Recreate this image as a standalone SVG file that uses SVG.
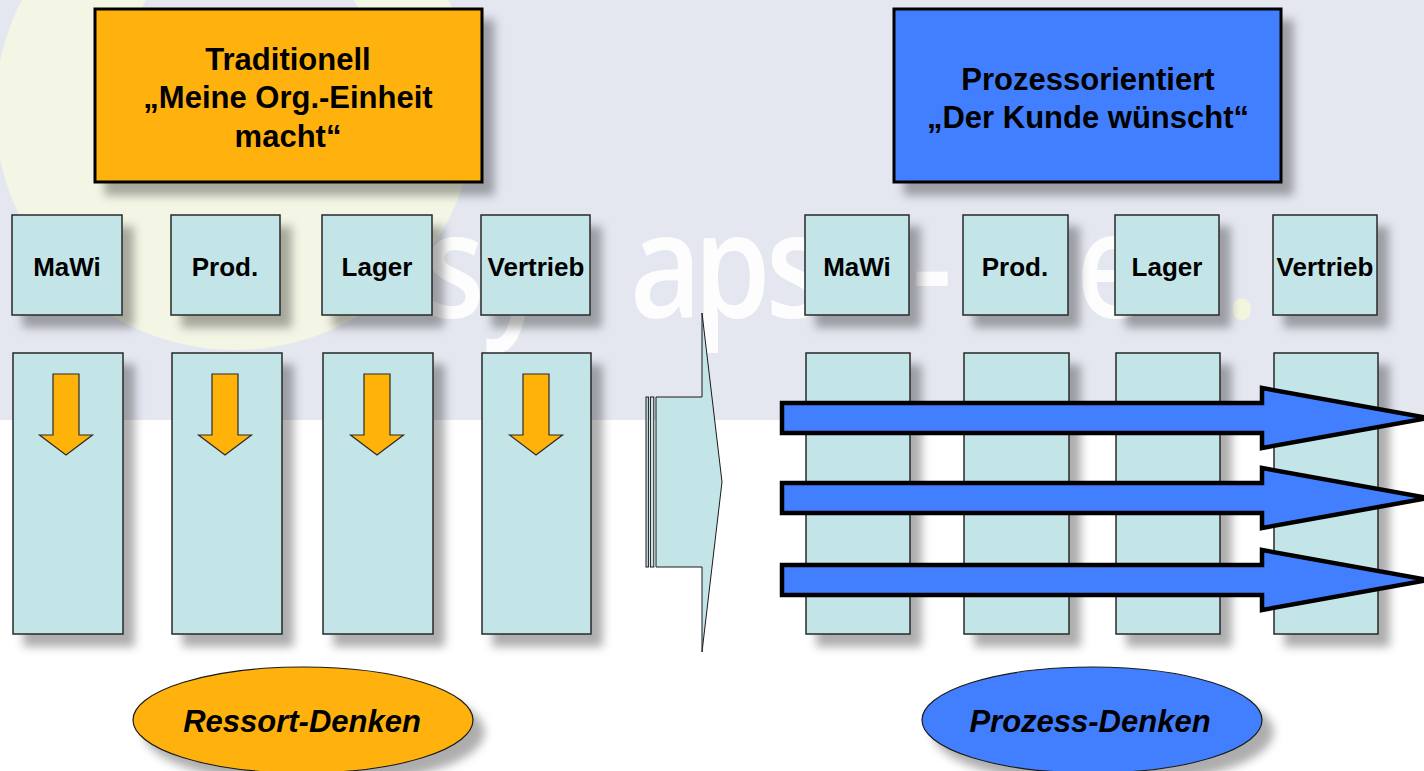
<svg xmlns="http://www.w3.org/2000/svg" xmlns:xlink="http://www.w3.org/1999/xlink" width="1424" height="771" viewBox="0 0 1424 771">
  <style>
    .lbl { font-family: "Liberation Sans", Arial, sans-serif; font-weight: bold; fill: #000; text-anchor: middle; }
    .head { font-size: 31px; }
    .unit { font-size: 26px; }
    .oval { font-size: 31px; font-style: italic; }
    .dept { fill: #c4e5e8; stroke: #2a2a2a; stroke-width: 1.5; }
    .org { fill: #ffb208; }
    .proc { fill: #427fff; }
    .mark { font-family: "Open Sans", sans-serif; font-size: 146px; font-weight: 600; }
  </style>
  <defs>
    <filter id="shadow" x="-20%" y="-20%" width="150%" height="150%">
      <feGaussianBlur in="SourceAlpha" stdDeviation="5"/>
      <feOffset dx="11" dy="12" result="b"/>
      <feFlood flood-color="#000" flood-opacity="0.32"/>
      <feComposite in2="b" operator="in"/>
      <feMerge><feMergeNode/><feMergeNode in="SourceGraphic"/></feMerge>
    </filter>
    <!-- downward block arrow, centred on x = 0 -->
    <path id="down" d="M-13,374 H13 V435 H26.5 L0,455 L-26.5,435 H-13 Z" fill="#ffb208" stroke="#2a2a2a" stroke-width="1.2" stroke-linejoin="miter"/>
    <!-- horizontal process arrow, centred on y = 0 -->
    <path id="flow" d="M782,-15 H1262 V-30 L1428,0 L1262,30 V15 H782 Z" fill="#427fff" stroke="#000" stroke-width="4.5" stroke-linejoin="miter"/>
  </defs>

  <!-- slide background -->
  <rect width="1424" height="771" fill="#ffffff"/>
  <rect width="1424" height="420" fill="#e4e7f0"/>

  <!-- faint logo watermark -->
  <g id="watermark">
    <path d="M235,-130 A240,240 0 1 0 235.1,-130 Z M250,-60 A120,120 0 1 1 249.9,-60 Z" fill="#f3f6e5" fill-rule="evenodd"/>
    <text class="mark" y="318" transform="scale(0.85,1)" fill="#ffffff" fill-opacity="0.92"><tspan x="499">s</tspan><tspan x="569">y</tspan><tspan x="741">a</tspan><tspan x="816">p</tspan><tspan x="901">s</tspan><tspan x="1073">-</tspan><tspan x="1266">e</tspan><tspan x="1441" fill="#f4f6dc">.</tspan></text>
  </g>

  <!-- headline boxes -->
  <g id="traditionell">
    <rect x="95" y="9" width="387" height="173" class="org" stroke="#000" stroke-width="3" filter="url(#shadow)"/>
    <text class="lbl head" x="288" y="70">Traditionell</text>
    <text class="lbl head" x="288" y="108">„Meine Org.-Einheit</text>
    <text class="lbl head" x="288" y="147">macht“</text>
  </g>
  <g id="prozessorientiert">
    <rect x="894" y="9" width="387" height="173" class="proc" stroke="#000" stroke-width="3" filter="url(#shadow)"/>
    <text class="lbl head" x="1088" y="90">Prozessorientiert</text>
    <text class="lbl head" x="1088" y="128">„Der Kunde wünscht“</text>
  </g>

  <!-- department headers, left side -->
  <g id="l-mawi"><rect x="12" y="215" width="110" height="100" class="dept" filter="url(#shadow)"/><text class="lbl unit" x="67" y="276">MaWi</text></g>
  <g id="l-prod"><rect x="171" y="215" width="109" height="100" class="dept" filter="url(#shadow)"/><text class="lbl unit" x="225" y="276">Prod.</text></g>
  <g id="l-lager"><rect x="322" y="215" width="110" height="100" class="dept" filter="url(#shadow)"/><text class="lbl unit" x="377" y="276">Lager</text></g>
  <g id="l-vertrieb"><rect x="481" y="215" width="109" height="100" class="dept" filter="url(#shadow)"/><text class="lbl unit" x="536" y="276">Vertrieb</text></g>

  <!-- department headers, right side -->
  <g id="r-mawi"><rect x="805" y="215" width="104" height="100" class="dept" filter="url(#shadow)"/><text class="lbl unit" x="857" y="276">MaWi</text></g>
  <g id="r-prod"><rect x="963" y="215" width="105" height="100" class="dept" filter="url(#shadow)"/><text class="lbl unit" x="1015" y="276">Prod.</text></g>
  <g id="r-lager"><rect x="1115" y="215" width="104" height="100" class="dept" filter="url(#shadow)"/><text class="lbl unit" x="1167" y="276">Lager</text></g>
  <g id="r-vertrieb"><rect x="1273" y="215" width="104" height="100" class="dept" filter="url(#shadow)"/><text class="lbl unit" x="1325" y="276">Vertrieb</text></g>

  <!-- department columns -->
  <g id="l-columns">
    <rect x="13" y="353" width="110" height="281" class="dept" filter="url(#shadow)"/>
    <rect x="172" y="353" width="110" height="281" class="dept" filter="url(#shadow)"/>
    <rect x="323" y="353" width="110" height="281" class="dept" filter="url(#shadow)"/>
    <rect x="482" y="353" width="109" height="281" class="dept" filter="url(#shadow)"/>
  </g>
  <g id="r-columns">
    <rect x="806" y="353" width="104" height="281" class="dept" filter="url(#shadow)"/>
    <rect x="964" y="353" width="105" height="281" class="dept" filter="url(#shadow)"/>
    <rect x="1116" y="353" width="104" height="281" class="dept" filter="url(#shadow)"/>
    <rect x="1274" y="353" width="104" height="281" class="dept" filter="url(#shadow)"/>
  </g>

  <!-- block arrows -->
  <g id="connectors">
    <use xlink:href="#down" x="66"/>
    <use xlink:href="#down" x="225"/>
    <use xlink:href="#down" x="377"/>
    <use xlink:href="#down" x="536"/>

    <!-- striped transition arrow -->
    <g fill="#c4e5e8" stroke="#1a1a1a" stroke-width="1">
      <rect x="646" y="397" width="2.4" height="170"/>
      <rect x="650.4" y="397" width="3.4" height="170"/>
      <path d="M656,397 H702 V313 L722,482 L702,652 V567 H656 Z"/>
    </g>

    <use xlink:href="#flow" y="418"/>
    <use xlink:href="#flow" y="498"/>
    <use xlink:href="#flow" y="580"/>
  </g>

  <!-- summary ovals -->
  <g id="ressort-denken">
    <ellipse cx="303" cy="720" rx="170" ry="53" class="org" stroke="#1a1a1a" stroke-width="1.2" filter="url(#shadow)"/>
    <text class="lbl oval" x="302" y="732">Ressort-Denken</text>
  </g>
  <g id="prozess-denken">
    <ellipse cx="1092" cy="720" rx="170" ry="53" class="proc" stroke="#1a1a1a" stroke-width="1.2" filter="url(#shadow)"/>
    <text class="lbl oval" x="1090" y="732">Prozess-Denken</text>
  </g>
</svg>
